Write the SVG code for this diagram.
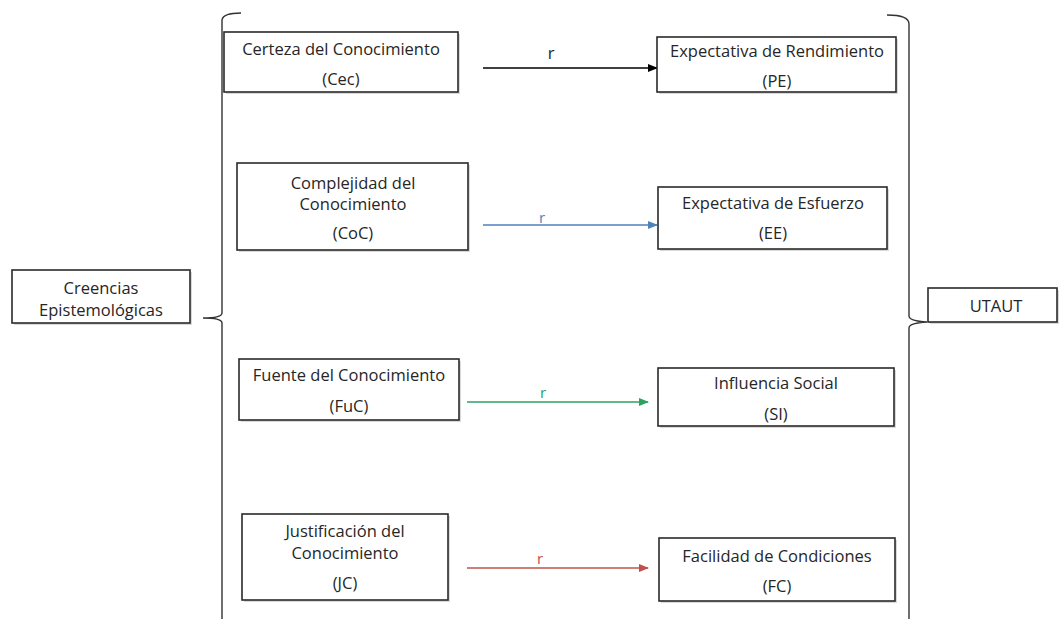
<svg xmlns="http://www.w3.org/2000/svg" width="1059" height="619" viewBox="0 0 1059 619">
<style>
.box{fill:#fff;stroke:#2a2a2a;stroke-width:1.6}
.sh{fill:#aaa;opacity:0.45}
text{font-family:"Open Sans","Liberation Sans",Arial,sans-serif;font-size:16.5px;fill:#262626;text-anchor:middle;dominant-baseline:central}
.br{fill:none;stroke:#333;stroke-width:1.4}
.c{fill:none;stroke-width:1.3}
</style>
<defs>
<marker id="ak" markerWidth="10" markerHeight="8" refX="9" refY="4" orient="auto" markerUnits="userSpaceOnUse"><path d="M0,0 L10,4 L0,8 Z" fill="#000"/></marker>
<marker id="ab" markerWidth="10" markerHeight="8" refX="9" refY="4" orient="auto" markerUnits="userSpaceOnUse"><path d="M0,0 L10,4 L0,8 Z" fill="#4f81bd"/></marker>
<marker id="ag" markerWidth="10" markerHeight="8" refX="9" refY="4" orient="auto" markerUnits="userSpaceOnUse"><path d="M0,0 L10,4 L0,8 Z" fill="#2ea060"/></marker>
<marker id="ar" markerWidth="10" markerHeight="8" refX="9" refY="4" orient="auto" markerUnits="userSpaceOnUse"><path d="M0,0 L10,4 L0,8 Z" fill="#c0504d"/></marker>
</defs>

<g id="braces">
<path class="br" d="M241,13 Q223,13 222,20 L222,313 Q222,318 203,318 Q222,318 222,323 L222,619"/>
<path class="br" d="M887,15 Q909,15 909,24 L909,316 Q909,321 927,322 Q909,323 909,328 L909,619"/>
</g>

<g id="connectors">
<line class="c" x1="483" y1="68" x2="657" y2="68" stroke="#000" marker-end="url(#ak)"/>
<text x="551" y="52">r</text>
<line class="c" x1="483" y1="225" x2="657" y2="225" stroke="#4f81bd" marker-end="url(#ab)"/>
<text x="542" y="217" style="fill:#4f81bd;font-size:15px">r</text>
<line class="c" x1="467" y1="402" x2="648" y2="402" stroke="#2ea060" marker-end="url(#ag)"/>
<text x="543" y="392" style="fill:#2ea060;font-size:15px">r</text>
<line class="c" x1="467" y1="568" x2="648" y2="568" stroke="#c0504d" marker-end="url(#ar)"/>
<text x="540" y="558" style="fill:#c0504d;font-size:15px">r</text>
</g>

<g id="creencias">
<rect class="sh" x="14" y="272" width="178" height="53"/>
<rect class="box" x="12" y="270" width="178" height="53"/>
<text x="101" y="287">Creencias</text>
<text x="101" y="309">Epistemológicas</text>
</g>

<g id="utaut">
<rect class="sh" x="930" y="290" width="129" height="34"/>
<rect class="box" x="928" y="288" width="129" height="34"/>
<text x="996" y="305">UTAUT</text>
</g>

<g id="cec">
<rect class="sh" x="226" y="34" width="234" height="60"/>
<rect class="box" x="224" y="32" width="234" height="60"/>
<text x="341" y="48">Certeza del Conocimiento</text>
<text x="341" y="78">(Cec)</text>
</g>

<g id="coc">
<rect class="sh" x="239" y="165" width="231" height="87"/>
<rect class="box" x="237" y="163" width="231" height="87"/>
<text x="353" y="182">Complejidad del</text>
<text x="353" y="203">Conocimiento</text>
<text x="353" y="232">(CoC)</text>
</g>

<g id="fuc">
<rect class="sh" x="241" y="361" width="220" height="61"/>
<rect class="box" x="239" y="359" width="220" height="61"/>
<text x="349" y="374">Fuente  del Conocimiento</text>
<text x="349" y="405">(FuC)</text>
</g>

<g id="jc">
<rect class="sh" x="244" y="516" width="206" height="86"/>
<rect class="box" x="242" y="514" width="206" height="86"/>
<text x="345" y="530">Justificación del</text>
<text x="345" y="552">Conocimiento</text>
<text x="345" y="582">(JC)</text>
</g>

<g id="pe">
<rect class="sh" x="659" y="39" width="239" height="55"/>
<rect class="box" x="657" y="37" width="239" height="55"/>
<text x="777" y="50">Expectativa de Rendimiento</text>
<text x="777" y="80">(PE)</text>
</g>

<g id="ee">
<rect class="sh" x="660" y="189" width="229" height="62"/>
<rect class="box" x="658" y="187" width="229" height="62"/>
<text x="773" y="202">Expectativa de Esfuerzo</text>
<text x="773" y="232">(EE)</text>
</g>

<g id="si">
<rect class="sh" x="660" y="370" width="236" height="58"/>
<rect class="box" x="658" y="368" width="236" height="58"/>
<text x="776" y="382">Influencia Social</text>
<text x="776" y="413">(SI)</text>
</g>

<g id="fc">
<rect class="sh" x="661" y="540" width="236" height="63"/>
<rect class="box" x="659" y="538" width="236" height="63"/>
<text x="777" y="555">Facilidad de Condiciones</text>
<text x="777" y="585">(FC)</text>
</g>
</svg>
